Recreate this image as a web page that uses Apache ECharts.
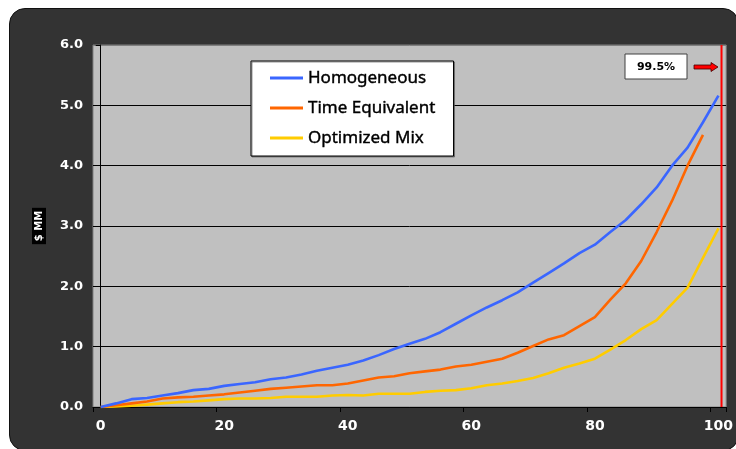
<!DOCTYPE html>
<html>
<head>
<meta charset="utf-8">
<script src="https://cdn.jsdelivr.net/npm/echarts@6/dist/echarts.min.js"></script>
<style>
  html, body { margin:0; padding:0; background:#ffffff; width:736px; height:449px; overflow:hidden; }
  #panel { position:absolute; left:9px; top:8px; width:728px; height:441px; background:#333333; border:1px solid #111; border-radius:16px; }
  #chart { position:absolute; left:0; top:0; width:736px; height:449px; }
</style>
</head>
<body>
<div id="panel"></div>
<div id="chart"></div>
<script>
// Percentile categories (x axis)
const percentiles = [0,2.5,5,7.5,10,12.5,15,17.5,20,22.5,25,27.5,30,32.5,35,37.5,40,42.5,45,47.5,50,52.5,55,57.5,60,62.5,65,67.5,70,72.5,75,77.5,80,82.5,85,87.5,90,92.5,95,97.5,100];
// Series values ($ MM)
const homogeneous = [0.00,0.06,0.13,0.15,0.19,0.23,0.28,0.30,0.35,0.38,0.41,0.46,0.49,0.54,0.60,0.65,0.70,0.77,0.86,0.96,1.05,1.13,1.24,1.38,1.52,1.65,1.77,1.90,2.06,2.22,2.38,2.55,2.69,2.90,3.10,3.36,3.64,4.00,4.30,4.72,5.16];
const timeEquivalent = [0.00,0.03,0.06,0.09,0.14,0.16,0.17,0.19,0.21,0.24,0.27,0.30,0.32,0.34,0.36,0.36,0.39,0.44,0.49,0.51,0.56,0.59,0.62,0.67,0.70,0.75,0.80,0.90,1.01,1.12,1.19,1.34,1.49,1.78,2.05,2.42,2.90,3.42,4.00,4.51,null];
const optimizedMix = [0.00,0.01,0.02,0.04,0.06,0.08,0.09,0.11,0.13,0.14,0.14,0.15,0.17,0.17,0.17,0.19,0.20,0.19,0.22,0.22,0.22,0.25,0.27,0.28,0.31,0.36,0.39,0.43,0.48,0.56,0.65,0.72,0.80,0.95,1.11,1.29,1.44,1.71,1.98,2.47,2.96];
const seriesNames = ['Homogeneous','Time Equivalent','Optimized Mix'];
const seriesColors = ['#3a66ff','#ff6600','#ffcc00'];
// Threshold marker
const thresholdLabel = '99.5%';
const thresholdX = 100.5;
const yTicks = [0,1,2,3,4,5,6];

const chart = echarts.init(document.getElementById('chart'), null, {renderer:'canvas'});
const lab = {color:'#ffffff', fontFamily:'DejaVu Sans', fontWeight:'bold', fontSize:13};

const option = {
  animation:false,
  backgroundColor:'transparent',
  grid:{left:93, top:45, width:637, height:362, show:true, backgroundColor:'#c0c0c0', borderColor:'#808080', borderWidth:1},
  legend:{
    data:seriesNames, orient:'vertical', left:251, top:61,
    padding:[7,18,8,19], itemGap:10, itemWidth:33, itemHeight:3, itemTextGap:4,
    icon:'rect', backgroundColor:'#ffffff', borderColor:'#000000', borderWidth:1,
    shadowColor:'rgba(80,80,80,0.6)', shadowOffsetX:1, shadowOffsetY:1,
    textStyle:{color:'#000', fontFamily:'Noto Sans', fontSize:17, lineHeight:20, textBorderColor:'#000', textBorderWidth:0.4}
  },
  xAxis:[{
    type:'category', data:percentiles.map(String), boundaryGap:true,
    axisLine:{lineStyle:{color:'#000', width:1}},
    axisTick:{show:true, interval:7, length:5, lineStyle:{color:'#000'}},
    axisLabel:Object.assign({interval:7, margin:12}, lab, {fontSize:14}),
    splitLine:{show:false}
  },{
    type:'value', min:-1.25, max:101.25, show:false
  }],
  yAxis:{
    type:'value', min:yTicks[0], max:yTicks[yTicks.length-1], interval:1,
    axisLine:{show:true, lineStyle:{color:'#000', width:1}},
    axisTick:{show:true, length:5, lineStyle:{color:'#000'}},
    axisLabel:Object.assign({margin:10, formatter:v=>v.toFixed(1)}, lab),
    splitLine:{show:true, lineStyle:{color:['#000','#000','#000','#000','#000','#000','#808080'], width:1}},
    name:'$ MM', nameLocation:'middle', nameRotate:90, nameGap:47,
    nameTextStyle:{color:'#fff', backgroundColor:'#000', fontFamily:'DejaVu Sans', fontWeight:'bold', fontSize:10, padding:[2,3,2,3]}
  },
  series:[
    {name:seriesNames[0], type:'line', data:homogeneous, color:seriesColors[0], symbol:'none', lineStyle:{width:2.6, color:seriesColors[0]}, z:4},
    {name:seriesNames[1], type:'line', data:timeEquivalent, color:seriesColors[1], symbol:'none', lineStyle:{width:2.6, color:seriesColors[1]}, z:3},
    {name:seriesNames[2], type:'line', data:optimizedMix, color:seriesColors[2], symbol:'none', lineStyle:{width:2.6, color:seriesColors[2]}, z:2},
    {name:'threshold', type:'line', xAxisIndex:1, data:[[thresholdX,yTicks[0]],[thresholdX,yTicks[yTicks.length-1]]], symbol:'none', color:'#ff0000', lineStyle:{width:2, color:'#ff0000'}, z:5}
  ],
  graphic:[
    {type:'rect', shape:{x:625, y:54, width:62, height:25}, style:{fill:'#ffffff', stroke:'#404040', lineWidth:1}, z:10},
    {type:'text', x:656, y:67, style:{text:thresholdLabel, fill:'#000', font:'bold 11px "DejaVu Sans"', align:'center', verticalAlign:'middle'}, z:11},
    {type:'polygon', shape:{points:[[694,65],[711,65],[711,62.5],[718,67],[711,71.5],[711,69],[694,69]]}, style:{fill:'#ff0000', stroke:'#400000', lineWidth:0.8}, z:10}
  ]
};
chart.setOption(option);
</script>
</body>
</html>
